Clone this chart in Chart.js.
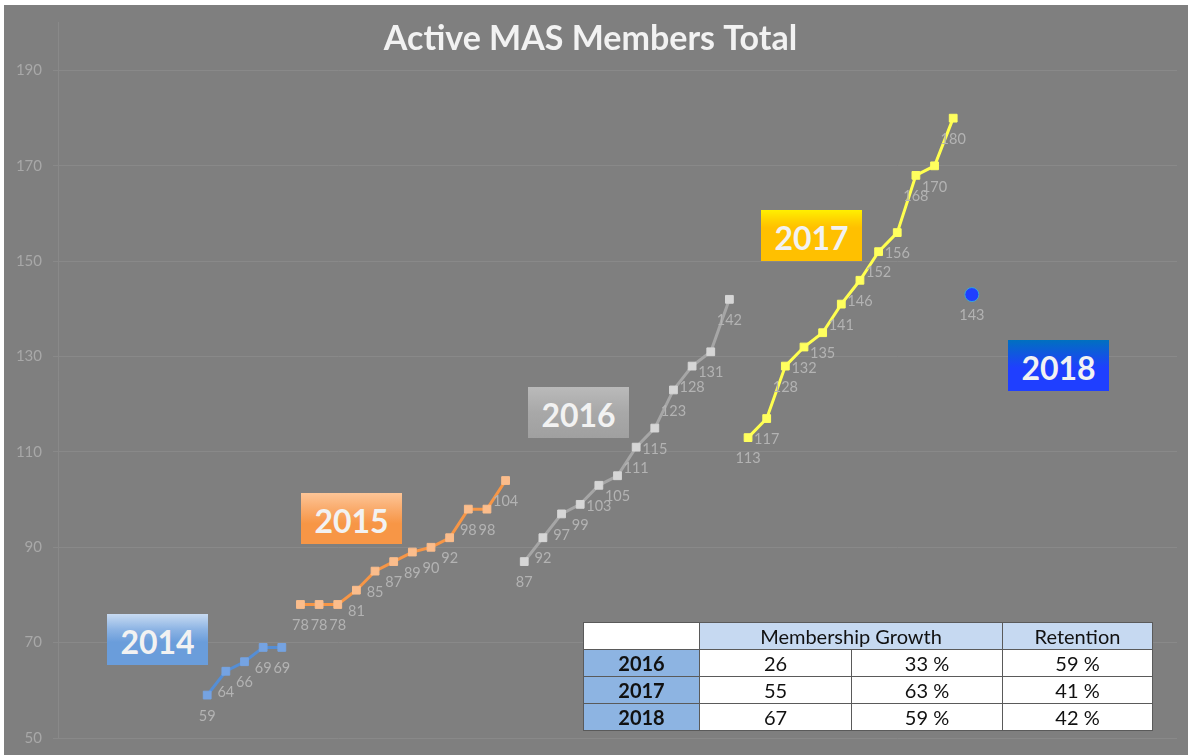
<!DOCTYPE html>
<html>
<head>
<meta charset="utf-8">
<script src="https://cdn.jsdelivr.net/npm/chart.js@4/dist/chart.umd.min.js"></script>
<style>
  html, body { margin: 0; padding: 0; background: #ffffff; }
  #wrap { position: absolute; left: 4px; top: 5px; width: 1184px; height: 750px; background: #7f7f7f; }
  #chartContainer { position: absolute; left: 0; top: 0; }
  .year { position: absolute; width: 101px; height: 51px; color: #f2f2f2; font: bold 32px Lato, sans-serif;
          text-align: center; line-height: 55px; }
  #stats { position: absolute; left: 579px; top: 617px; border-collapse: collapse; font: 20px Lato, sans-serif;
           color: #111111; table-layout: fixed; }
  #stats td { border: 1px solid #5a5a5a; height: 26px; line-height: 24px; padding: 0; text-align: center; background: #ffffff; }
  #stats tr.head td { background: #c6d9f1; }
  #stats tr.head td.blank { background: #ffffff; }
  #stats td.yr { background: #8db4e2; font-weight: bold; }
</style>
</head>
<body>
<div id="wrap">
  <canvas id="chartContainer" width="1184" height="750"></canvas>
</div>
<script>
"use strict";

// 1: data
let seriesYears = ['2014', '2015', '2016', '2017', '2018'];
let seriesStart = [0, 5, 17, 29, 41];
let members2014 = [59, 64, 66, 69, 69];
let members2015 = [78, 78, 78, 81, 85, 87, 89, 90, 92, 98, 98, 104];
let members2016 = [87, 92, 97, 99, 103, 105, 111, 115, 123, 128, 131, 142];
let members2017 = [113, 117, 128, 132, 135, 141, 146, 152, 156, 168, 170, 180];
let members2018 = [143];
let yTicks = [50, 70, 90, 110, 130, 150, 170, 190];

let tableYears = ['2016', '2017', '2018'];
let growthCount = [26, 55, 67];
let growthPct = [33, 63, 59];
let retentionPct = [59, 41, 42];

// 2: prepare data for chart
function toPoints(values, start) {
  let points = [];
  for (let i = 0; i < values.length; i++) {
    points.push({ x: start + i, y: values[i] });
  }
  return points;
}

function lineSet(values, idx, line, marker) {
  return {
    label: seriesYears[idx],
    data: toPoints(values, seriesStart[idx]),
    borderColor: line,
    backgroundColor: marker,
    borderWidth: 3,
    pointStyle: 'rect',
    pointRadius: 5.5,
    pointBorderColor: marker,
    pointBackgroundColor: marker,
    pointBorderWidth: 1,
    tension: 0
  };
}

// labels under each point
const pointLabels = {
  id: 'pointLabels',
  afterDatasetsDraw(chart) {
    const ctx = chart.ctx;
    ctx.save();
    ctx.font = '14.5px Lato';
    ctx.fillStyle = '#b3b3b3';
    ctx.textAlign = 'center';
    ctx.textBaseline = 'middle';
    chart.data.datasets.forEach((ds, i) => {
      chart.getDatasetMeta(i).data.forEach((pt, j) => {
        ctx.fillText(String(ds.data[j].y), pt.x, pt.y + 21);
      });
    });
    ctx.restore();
  }
};

// 3: create and append the chart
function appendChart() {
  let chartContainer = document.getElementById('chartContainer');
  let dot2018 = {
    label: seriesYears[4],
    data: toPoints(members2018, seriesStart[4]),
    showLine: false,
    pointStyle: 'circle',
    pointRadius: 7,
    pointBackgroundColor: '#1f3fff',
    pointBorderColor: '#3aa6d8',
    pointBorderWidth: 1
  };
  new Chart(chartContainer, {
    type: 'line',
    data: {
      datasets: [
        lineSet(members2014, 0, '#558ed5', '#75a3e2'),
        lineSet(members2015, 1, '#f79646', '#fbbd8c'),
        lineSet(members2016, 2, '#a6a6a6', '#d6d6d6'),
        lineSet(members2017, 3, '#ffff4f', '#ffff5e'),
        dot2018
      ]
    },
    options: {
      responsive: false,
      animation: false,
      layout: { padding: { left: 0, top: 0, right: 11, bottom: 17 } },
      plugins: {
        legend: { display: false },
        tooltip: { enabled: false },
        title: {
          display: true,
          text: 'Active MAS Members Total',
          color: '#f2f2f2',
          font: { family: 'Lato', size: 34, weight: 'bold' },
          padding: { top: 14, bottom: -37 }
        }
      },
      scales: {
        x: { type: 'linear', display: false, min: -8, max: 52 },
        y: {
          min: 50,
          max: 200,
          afterBuildTicks(scale) {
            scale.ticks = yTicks.map(v => ({ value: v }));
          },
          afterFit(scale) {
            scale.width = 54;
            scale.paddingTop = 0;
            scale.paddingBottom = 0;
          },
          ticks: { color: '#a8a8a8', font: { family: 'Lato', size: 15 }, padding: 11 },
          grid: { color: '#898989', tickLength: 5 },
          border: { color: '#898989' }
        }
      }
    },
    plugins: [pointLabels]
  });
}

function appendYearBoxes() {
  let wrap = document.getElementById('wrap');
  let boxes = [
    { left: 103, top: 609, bg: 'linear-gradient(#c8dbf2 0%, #8db4e4 30%, #6a9ddb 55%, #6a9ddb 100%)' },
    { left: 297, top: 488, bg: 'linear-gradient(#fdc597 0%, #f9a867 35%, #f79646 60%, #f79646 100%)' },
    { left: 524, top: 382, bg: 'linear-gradient(#bababa 0%, #a8a8a8 50%, #a0a0a0 100%)' },
    { left: 757, top: 205, bg: 'linear-gradient(#fff000 0%, #ffd200 20%, #ffc000 35%, #ffc000 100%)' },
    { left: 1004, top: 335, bg: 'linear-gradient(#0070c0 0%, #1550e8 35%, #1f3fff 55%, #1f3fff 100%)' }
  ];
  boxes.forEach((b, i) => {
    let d = document.createElement('div');
    d.className = 'year';
    d.style.left = b.left + 'px';
    d.style.top = b.top + 'px';
    d.style.background = b.bg;
    d.textContent = seriesYears[i];
    wrap.appendChild(d);
  });
}

function appendTable() {
  let wrap = document.getElementById('wrap');
  let html = '<table id="stats"><colgroup><col style="width:116px"><col style="width:152px">' +
    '<col style="width:151px"><col style="width:150px"></colgroup>' +
    '<tr class="head"><td class="blank"></td><td colspan="2">Membership Growth</td><td>Retention</td></tr>';
  for (let i = 0; i < tableYears.length; i++) {
    html += '<tr><td class="yr">' + tableYears[i] + '</td><td>' + growthCount[i] + '</td><td>' +
      growthPct[i] + ' %</td><td>' + retentionPct[i] + ' %</td></tr>';
  }
  html += '</table>';
  wrap.insertAdjacentHTML('beforeend', html);
}

appendChart();
appendYearBoxes();
appendTable();
</script>
</body>
</html>
